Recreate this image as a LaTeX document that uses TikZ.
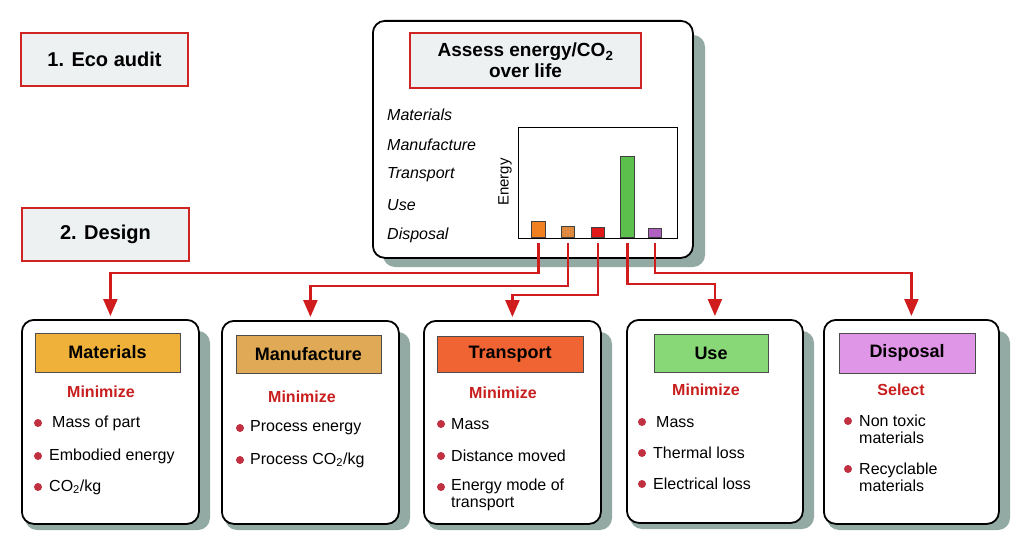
\documentclass[tikz,border=0pt]{standalone}
\usepackage{fontspec}
\setmainfont{Liberation Sans}
\usetikzlibrary{arrows.meta}
\definecolor{labred}{HTML}{D02424}
\definecolor{labfill}{HTML}{EEF1F2}
\definecolor{connred}{HTML}{D01C1C}
\definecolor{minred}{HTML}{C81E1E}
\definecolor{bulred}{HTML}{C03040}
\definecolor{shadowc}{HTML}{93AAA4}
\definecolor{matc}{HTML}{EFB13A}
\definecolor{manc}{HTML}{E0A955}
\definecolor{trac}{HTML}{F06434}
\definecolor{usec}{HTML}{88D878}
\definecolor{disc}{HTML}{E096E6}
\definecolor{barA}{HTML}{F08020}
\definecolor{barB}{HTML}{E08A40}
\definecolor{barC}{HTML}{E01818}
\definecolor{barD}{HTML}{5CC04C}
\definecolor{barE}{HTML}{B060C0}
\tikzset{
  shadowbox/.style={fill=shadowc, rounded corners=12pt},
  panel/.style={draw=black, line width=1.8pt, fill=white, rounded corners=12pt, anchor=north west, inner sep=0pt},
  redlabel/.style={draw=labred, line width=2.2pt, fill=labfill, inner sep=0pt, align=center,
     font=\fontsize{19}{21}\selectfont\bfseries},
  headbox/.style={draw=black!70, line width=0.8pt, inner sep=0pt,
     font=\fontsize{18}{20}\selectfont\bfseries},
  minlbl/.style={text=minred, inner sep=0pt, font=\fontsize{16}{18}\selectfont\bfseries},
  item/.style={anchor=west, inner sep=0pt, align=left, font=\fontsize{16}{16.5}\selectfont},
  bul/.style={circle, fill=bulred, inner sep=0pt, minimum size=8pt},
  stage/.style={anchor=west, inner sep=0pt, font=\fontsize{16}{18}\selectfont\itshape},
  bar/.style={draw=black!75, line width=0.6pt, anchor=south, minimum width=13.5pt, inner sep=0pt},
  conn/.style={draw=connred, line width=2.4pt, -{Triangle[width=14pt,length=17pt]}, shorten >=3pt}
}
\begin{document}
\begin{tikzpicture}[x=1pt,y=-1pt]
\useasboundingbox[fill=white] (0,0) rectangle (1024,553);
% labels
\node[redlabel, minimum width=167pt, minimum height=53pt, font=\fontsize{20}{22}\selectfont\bfseries] (eco) at (104.5,59.5) {1. Eco audit};
\node[redlabel, minimum width=167pt, minimum height=53pt, font=\fontsize{20}{22}\selectfont\bfseries] (design) at (105.5,234.5) {2. Design};
% top panel
\fill[shadowbox] (383,35) rectangle (705,267);
\node[panel, minimum width=320pt, minimum height=237pt] (top) at (372,20) {};
\node[redlabel, minimum width=231pt, minimum height=55pt] (title) at (525.5,60.5) {Assess energy/CO\textsubscript{2}\\over life};
\node[stage] (sA) at (387,115) {Materials};
\node[stage] (sB) at (387,145) {Manufacture};
\node[stage] (sC) at (387,175) {Transport};
\node[stage] (sD) at (387,205) {Use};
\node[stage] (sE) at (387,235) {Disposal};
\node[draw=black, line width=1pt, anchor=north west, minimum width=159pt, minimum height=111pt, inner sep=0pt] (chart) at (518,127) {};
\node[rotate=90, inner sep=0pt, font=\fontsize{15}{17}\selectfont] (elbl) at (505,182) {Energy};
\node[bar, fill=barA, minimum height=16pt] (b1) at (538.5,238) {};
\node[bar, fill=barB, minimum height=11pt] (b2) at (568,238) {};
\node[bar, fill=barC, minimum height=10pt] (b3) at (598,238) {};
\node[bar, fill=barD, minimum height=81pt] (b4) at (627.5,238) {};
\node[bar, fill=barE, minimum height=9pt] (b5) at (655,238) {};
% bottom panels shadows
\fill[shadowbox] (25,331) rectangle (210,530);
\fill[shadowbox] (225,332) rectangle (410,530);
\fill[shadowbox] (427,332) rectangle (612,530);
\fill[shadowbox] (630,331) rectangle (814,529);
\fill[shadowbox] (827,331) rectangle (1010,530);
% bottom panels
\node[panel, minimum width=177pt, minimum height=204pt] (mat) at (21,319) {};
\node[panel, minimum width=177pt, minimum height=203pt] (man) at (221,320) {};
\node[panel, minimum width=177pt, minimum height=203pt] (tra) at (423,320) {};
\node[panel, minimum width=176pt, minimum height=203pt] (use) at (626,319) {};
\node[panel, minimum width=175pt, minimum height=204pt] (dis) at (823,319) {};
% headings
\node[headbox, fill=matc, minimum width=145pt, minimum height=39pt] (hmat) at (107.5,352.5) {Materials};
\node[headbox, fill=manc, minimum width=145pt, minimum height=38pt] (hman) at (308.5,354) {Manufacture};
\node[headbox, fill=trac, minimum width=146pt, minimum height=36pt] (htra) at (510,354) {Transport};
\node[headbox, fill=usec, minimum width=114pt, minimum height=38pt] (huse) at (711,353) {Use};
\node[headbox, fill=disc, minimum width=136pt, minimum height=40pt] (hdis) at (907,353) {Disposal};
% minimize
\node[minlbl] (mmat) at (101,392) {Minimize};
\node[minlbl] (mman) at (302,397) {Minimize};
\node[minlbl] (mtra) at (503,393) {Minimize};
\node[minlbl] (muse) at (706,390) {Minimize};
\node[minlbl] (mdis) at (901,390) {Select};
% Materials items
\node[bul] (pa1) at (38,423) {}; \node[item] (ta1) at (52,423) {Mass of part};
\node[bul] (pa2) at (38,456) {}; \node[item] (ta2) at (49,456) {Embodied energy};
\node[bul] (pa3) at (38,487) {}; \node[item] (ta3) at (49,487) {CO\textsubscript{2}/kg};
% Manufacture items
\node[bul] (pb1) at (240,428) {}; \node[item] (tb1) at (250,428) {Process energy};
\node[bul] (pb2) at (240,460) {}; \node[item] (tb2) at (250,460) {Process CO\textsubscript{2}/kg};
% Transport items
\node[bul] (pc1) at (441,424) {}; \node[item] (tc1) at (451,424) {Mass};
\node[bul] (pc2) at (441,456) {}; \node[item] (tc2) at (451,456) {Distance moved};
\node[bul] (pc3) at (441,487) {}; \node[item] (tc3) at (451,495) {Energy mode of\\transport};
% Use items
\node[bul] (pd1) at (642,422) {}; \node[item] (td1) at (656,422) {Mass};
\node[bul] (pd2) at (642,453) {}; \node[item] (td2) at (653,453) {Thermal loss};
\node[bul] (pd3) at (642,484) {}; \node[item] (td3) at (653,484) {Electrical loss};
% Disposal items
\node[bul] (pe1) at (848,421) {}; \node[item] (te1) at (859,429.5) {Non toxic\\materials};
\node[bul] (pe2) at (848,469) {}; \node[item] (te2) at (859,477.5) {Recyclable\\materials};
% connectors
\draw[conn] ([yshift=-5pt]b1.south) -- ++(0,30) -| (mat.north);
\draw[conn] ([yshift=-5pt]b2.south) -- ++(0,43) -| (man.north);
\draw[conn] ([yshift=-5pt]b3.south) -- ++(0,52) -| (tra.north);
\draw[conn] ([yshift=-5pt]b4.south) -- ++(0,41) -| (use.north);
\draw[conn] ([yshift=-5pt]b5.south) -- ++(0,30) -| (dis.north);
\end{tikzpicture}
\end{document}
